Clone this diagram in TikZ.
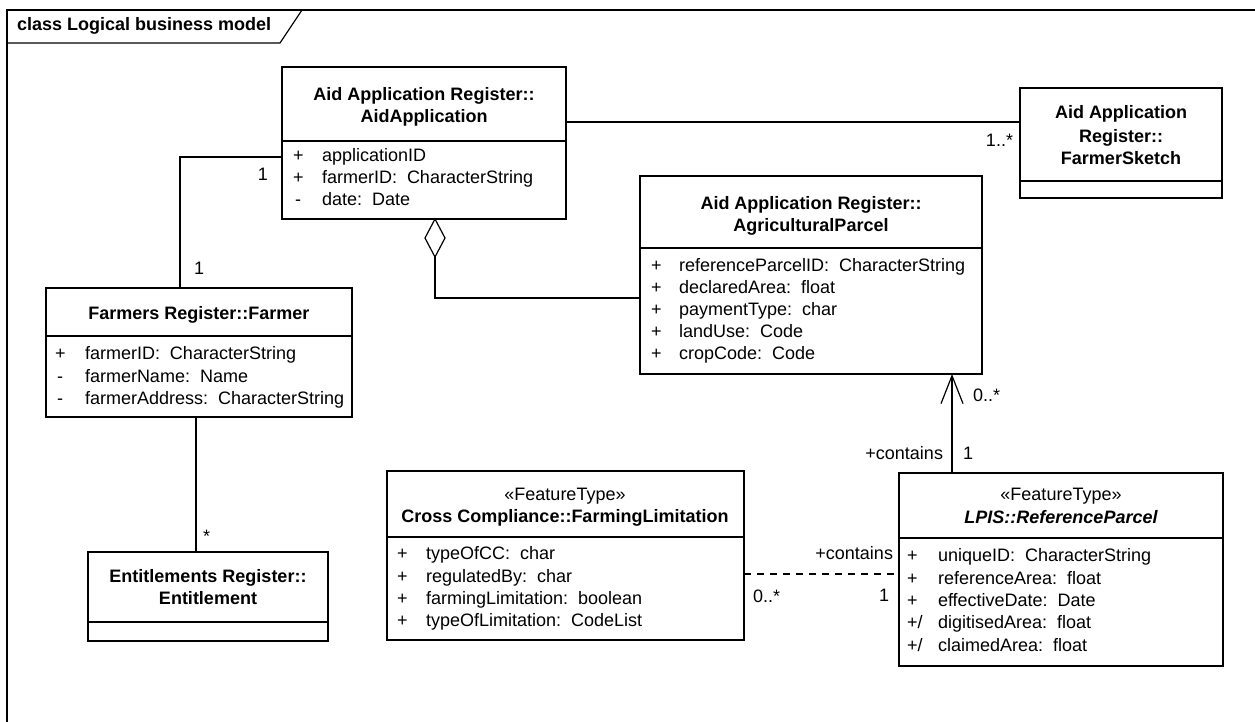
\documentclass[tikz,border=0pt]{standalone}
\usepackage{fontspec}
\setmainfont{Liberation Sans}
\usetikzlibrary{arrows.meta}
\begin{document}
\begin{tikzpicture}[x=1pt,y=-1pt,
  every node/.style={inner sep=0pt,outer sep=0pt,font=\fontsize{18pt}{22pt}\selectfont},
  box/.style={draw,line width=1.5pt,anchor=north west,fill=white},
  ttl/.style={anchor=base,font=\fontsize{18pt}{22pt}\selectfont\bfseries},
  ster/.style={anchor=base},
  attr/.style={anchor=base west},
  lblE/.style={anchor=base east},
  lblW/.style={anchor=base west},
  conn/.style={line width=1.2pt},
  divl/.style={line width=1.5pt}]
\useasboundingbox (0,0) rectangle (1255,722);
% frame
\draw[line width=1.2pt] (7,722) -- (7,10) -- (1255,10);
\coordinate (tabA) at (7,43);
\coordinate (tabB) at (280,43);
\coordinate (tabC) at (302,10);
\draw[line width=1.2pt] (tabA) -- (tabB) -- (tabC);
\node[anchor=base west,font=\fontsize{18pt}{22pt}\selectfont\bfseries] (frametitle) at (17,31) {class Logical business model};

% AidApplication
\node[box,minimum width=284pt,minimum height=152pt] (aid) at (282,67) {};
\draw[divl] (aid.west |- 0,141) -- (aid.east |- 0,141);
\node[ttl] (aidT1) at (424,101) {Aid Application Register::};
\node[ttl] (aidT2) at (424,123) {AidApplication};
\node[attr] (aidV1) at (293,162) {+};
\node[attr] (aidA1) at (322,162) {applicationID};
\node[attr] (aidV2) at (293,184) {+};
\node[attr] (aidA2) at (322,184) {farmerID:\ \ CharacterString};
\node[attr] (aidV3) at (295,206) {-};
\node[attr] (aidA3) at (322,206) {date:\ \ Date};

% FarmerSketch
\node[box,minimum width=202pt,minimum height=110pt] (sk) at (1020,88) {};
\draw[divl] (sk.west |- 0,181) -- (sk.east |- 0,181);
\node[ttl] (skT1) at (1121,119) {Aid Application};
\node[ttl] (skT2) at (1121,143) {Register::};
\node[ttl] (skT3) at (1121,165) {FarmerSketch};

% AgriculturalParcel
\node[box,minimum width=342pt,minimum height=198pt] (ap) at (640,176) {};
\draw[divl] (ap.west |- 0,248) -- (ap.east |- 0,248);
\node[ttl] (apT1) at (811,209) {Aid Application Register::};
\node[ttl] (apT2) at (811,232) {AgriculturalParcel};
\node[attr] (apV1) at (651,271) {+};
\node[attr] (apA1) at (679,271) {referenceParcelID:\ \ CharacterString};
\node[attr] (apV2) at (651,293) {+};
\node[attr] (apA2) at (679,293) {declaredArea:\ \ float};
\node[attr] (apV3) at (651,315) {+};
\node[attr] (apA3) at (679,315) {paymentType:\ \ char};
\node[attr] (apV4) at (651,337) {+};
\node[attr] (apA4) at (679,337) {landUse:\ \ Code};
\node[attr] (apV5) at (651,359) {+};
\node[attr] (apA5) at (679,359) {cropCode:\ \ Code};

% Farmer
\node[box,minimum width=306pt,minimum height=129pt] (fa) at (46,288) {};
\draw[divl] (fa.west |- 0,336) -- (fa.east |- 0,336);
\node[ttl] (faT1) at (199,319) {Farmers Register::Farmer};
\node[attr] (faV1) at (55,359) {+};
\node[attr] (faA1) at (85,359) {farmerID:\ \ CharacterString};
\node[attr] (faV2) at (57,382) {-};
\node[attr] (faA2) at (85,382) {farmerName:\ \ Name};
\node[attr] (faV3) at (57,404) {-};
\node[attr] (faA3) at (85,404) {farmerAddress:\ \ CharacterString};

% Entitlement
\node[box,minimum width=240pt,minimum height=89pt] (en) at (88,552) {};
\draw[divl] (en.west |- 0,622) -- (en.east |- 0,622);
\node[ttl] (enT1) at (208,582) {Entitlements Register::};
\node[ttl] (enT2) at (208,604) {Entitlement};

% FarmingLimitation
\node[box,minimum width=357pt,minimum height=169pt] (fl) at (387,471) {};
\draw[divl] (fl.west |- 0,537) -- (fl.east |- 0,537);
\node[ster] (flS) at (565,500) {«FeatureType»};
\node[ttl] (flT) at (565,522) {Cross Compliance::FarmingLimitation};
\node[attr] (flV1) at (397,559) {+};
\node[attr] (flA1) at (426,559) {typeOfCC:\ \ char};
\node[attr] (flV2) at (397,582) {+};
\node[attr] (flA2) at (426,582) {regulatedBy:\ \ char};
\node[attr] (flV3) at (397,604) {+};
\node[attr] (flA3) at (426,604) {farmingLimitation:\ \ boolean};
\node[attr] (flV4) at (397,626) {+};
\node[attr] (flA4) at (426,626) {typeOfLimitation:\ \ CodeList};

% ReferenceParcel
\node[box,minimum width=324pt,minimum height=193pt] (rp) at (899,473) {};
\draw[divl] (rp.west |- 0,538) -- (rp.east |- 0,538);
\node[ster] (rpS) at (1061,500) {«FeatureType»};
\node[ttl,font=\fontsize{18pt}{22pt}\selectfont\bfseries\itshape] (rpT) at (1061,523) {LPIS::ReferenceParcel};
\node[attr] (rpV1) at (907,561) {+};
\node[attr] (rpA1) at (938,561) {uniqueID:\ \ CharacterString};
\node[attr] (rpV2) at (907,584) {+};
\node[attr] (rpA2) at (938,584) {referenceArea:\ \ float};
\node[attr] (rpV3) at (907,606) {+};
\node[attr] (rpA3) at (938,606) {effectiveDate:\ \ Date};
\node[attr] (rpV4) at (907,628) {+/};
\node[attr] (rpA4) at (938,628) {digitisedArea:\ \ float};
\node[attr] (rpV5) at (907,651) {+/};
\node[attr] (rpA5) at (938,651) {claimedArea:\ \ float};

% Connectors
% AidApplication -- FarmerSketch
\draw[conn] (aid.east |- 0,122) -- (sk.west |- 0,122);
\node[lblE] (l1) at (1013,147) {1..*};

% AidApplication -- Farmer
\coordinate (bendA) at (180,157);
\draw[conn] (aid.west |- bendA) -- (bendA) -- (bendA |- fa.north);
\node[lblE] (l2) at (268,181) {1};
\node[lblW] (l3) at (194,274) {1};

% Farmer -- Entitlement
\draw[conn] (196,417) -- (196,552);
\node[lblW] (l4) at (203,542) {*};

% Aggregation AidApplication <>-- AgriculturalParcel
\coordinate (dtop) at (435,219);
\coordinate (dbot) at (435,257);
\draw[conn,fill=white] (dtop) -- (445,238) -- (dbot) -- (425,238) -- cycle;
\draw[conn] (dbot) |- (ap.west |- 0,298);

% ReferenceParcel --> AgriculturalParcel
\draw[conn,-{Straight Barb[length=28pt,width=22pt,line width=1.2pt]}] (rp.north -| 952,0) -- (ap.south -| 952,0);
\node[lblW] (l5) at (973,401) {0..*};
\node[lblE] (l6) at (943,459) {+contains};
\node[lblW] (l7) at (963,459) {1};

% FarmingLimitation -- ReferenceParcel (dashed)
\draw[conn,dash pattern=on 7pt off 6pt] (fl.east |- 0,574) -- (rp.west |- 0,574);
\node[lblE] (l8) at (893,559) {+contains};
\node[lblW] (l9) at (753,602) {0..*};
\node[lblW] (l10) at (879,601) {1};
\end{tikzpicture}
\end{document}
